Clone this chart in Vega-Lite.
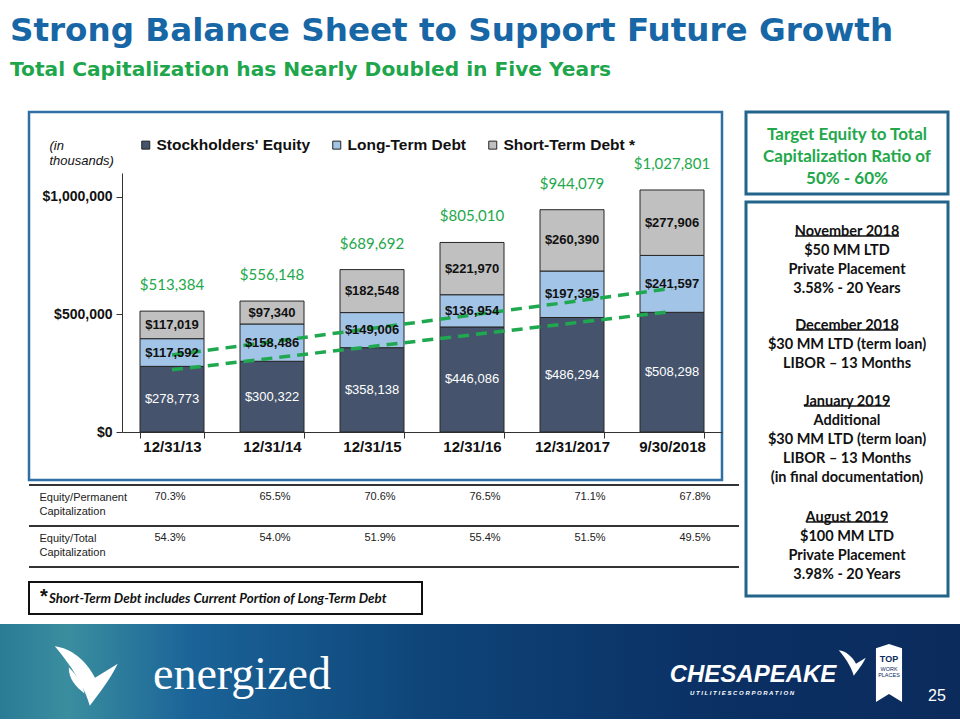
{
  "$schema": "https://vega.github.io/schema/vega-lite/v6.json",
  "padding": {"top": 14, "left": 0, "right": 0, "bottom": 0},
  "background": "white",
  "title": {
    "text": "Strong Balance Sheet to Support Future Growth",
    "subtitle": "Total Capitalization has Nearly Doubled in Five Years",
    "anchor": "start", "frame": "group", "dx": 10,
    "font": "DejaVu Sans", "fontSize": 32.6, "fontWeight": "bold", "color": "#1766a6",
    "subtitleFont": "DejaVu Sans", "subtitleFontSize": 20.2, "subtitleFontWeight": "bold", "subtitleColor": "#1ea64c",
    "subtitlePadding": 13, "offset": 30
  },
  "config": {"view": {"stroke": null}, "font": "Liberation Sans"},
  "datasets": {
    "cap": [
      {"date": "12/31/13", "series": "Stockholders' Equity", "order": 1, "value": 278773},
      {"date": "12/31/13", "series": "Long-Term Debt", "order": 2, "value": 117592},
      {"date": "12/31/13", "series": "Short-Term Debt *", "order": 3, "value": 117019},
      {"date": "12/31/14", "series": "Stockholders' Equity", "order": 1, "value": 300322},
      {"date": "12/31/14", "series": "Long-Term Debt", "order": 2, "value": 158486},
      {"date": "12/31/14", "series": "Short-Term Debt *", "order": 3, "value": 97340},
      {"date": "12/31/15", "series": "Stockholders' Equity", "order": 1, "value": 358138},
      {"date": "12/31/15", "series": "Long-Term Debt", "order": 2, "value": 149006},
      {"date": "12/31/15", "series": "Short-Term Debt *", "order": 3, "value": 182548},
      {"date": "12/31/16", "series": "Stockholders' Equity", "order": 1, "value": 446086},
      {"date": "12/31/16", "series": "Long-Term Debt", "order": 2, "value": 136954},
      {"date": "12/31/16", "series": "Short-Term Debt *", "order": 3, "value": 221970},
      {"date": "12/31/2017", "series": "Stockholders' Equity", "order": 1, "value": 486294},
      {"date": "12/31/2017", "series": "Long-Term Debt", "order": 2, "value": 197395},
      {"date": "12/31/2017", "series": "Short-Term Debt *", "order": 3, "value": 260390},
      {"date": "9/30/2018", "series": "Stockholders' Equity", "order": 1, "value": 508298},
      {"date": "9/30/2018", "series": "Long-Term Debt", "order": 2, "value": 241597},
      {"date": "9/30/2018", "series": "Short-Term Debt *", "order": 3, "value": 277906}
    ],
    "trend": [
      {"date": "12/31/13", "line": "upper", "value": 327000},
      {"date": "9/30/2018", "line": "upper", "value": 610000},
      {"date": "12/31/13", "line": "lower", "value": 264000},
      {"date": "9/30/2018", "line": "lower", "value": 512000}
    ],
    "ratios": [
      {"metric": "Equity/Permanent Capitalization", "date": "12/31/13", "ratio": "70.3%"},
      {"metric": "Equity/Permanent Capitalization", "date": "12/31/14", "ratio": "65.5%"},
      {"metric": "Equity/Permanent Capitalization", "date": "12/31/15", "ratio": "70.6%"},
      {"metric": "Equity/Permanent Capitalization", "date": "12/31/16", "ratio": "76.5%"},
      {"metric": "Equity/Permanent Capitalization", "date": "12/31/2017", "ratio": "71.1%"},
      {"metric": "Equity/Permanent Capitalization", "date": "9/30/2018", "ratio": "67.8%"},
      {"metric": "Equity/Total Capitalization", "date": "12/31/13", "ratio": "54.3%"},
      {"metric": "Equity/Total Capitalization", "date": "12/31/14", "ratio": "54.0%"},
      {"metric": "Equity/Total Capitalization", "date": "12/31/15", "ratio": "51.9%"},
      {"metric": "Equity/Total Capitalization", "date": "12/31/16", "ratio": "55.4%"},
      {"metric": "Equity/Total Capitalization", "date": "12/31/2017", "ratio": "51.5%"},
      {"metric": "Equity/Total Capitalization", "date": "9/30/2018", "ratio": "49.5%"}
    ],
    "rows": [
      {"metric": "Equity/Permanent Capitalization"},
      {"metric": "Equity/Total Capitalization"}
    ],
    "notes": [
      {"p": 1, "t": "November 2018\n$50 MM LTD\nPrivate Placement\n3.58% - 20 Years"},
      {"p": 2, "t": "December 2018\n$30 MM LTD (term loan)\nLIBOR – 13 Months"},
      {"p": 3, "t": "January 2019\nAdditional\n$30 MM LTD (term loan)\nLIBOR – 13 Months\n(in final documentation)"},
      {"p": 4, "t": "August 2019\n$100 MM LTD\nPrivate Placement\n3.98% - 20 Years"}
    ]
  },
  "vconcat": [
    {
      "hconcat": [
        {
          "width": 23, "height": 10,
          "view": {"fill": "white"},
          "data": {"values": []},
          "mark": "point"
        },
        {
          "vconcat": [
            {
              "vconcat": [
                {
                  "width": 693, "height": 368,
                  "view": {"stroke": "#2f6fa3", "strokeWidth": 2.5, "fill": "white"},
                  "data": {"name": "cap"},
                  "encoding": {
                    "x": {
                      "field": "date", "type": "ordinal",
                      "scale": {"type": "band", "domain": ["12/31/13", "12/31/14", "12/31/15", "12/31/16", "12/31/2017", "9/30/2018"], "range": [93, 693], "paddingInner": 0.36, "paddingOuter": 0.18},
                      "axis": {
                        "title": null, "orient": "bottom", "offset": -48, "labelAngle": 0,
                        "domainColor": "#333", "tickColor": "#333", "tickSize": 6, "tickBand": "extent",
                        "labelFont": "Liberation Sans", "labelFontWeight": "bold", "labelFontSize": 15, "labelColor": "#111", "labelPadding": 1
                      }
                    }
                  },
                  "layer": [
                    {
                      "mark": {"type": "bar", "stroke": "#262626", "strokeWidth": 1},
                      "encoding": {
                        "y": {
                          "field": "value", "type": "quantitative", "stack": "zero",
                          "scale": {"domain": [0, 1100000], "range": [320, 61], "nice": false, "zero": true},
                          "axis": {
                            "values": [0, 500000, 1000000], "format": "$,.0f", "offset": -93, "grid": false,
                            "domainColor": "#333", "tickColor": "#333", "tickSize": 6,
                            "labelFont": "Liberation Sans", "labelFontWeight": "bold", "labelFontSize": 14, "labelColor": "#111", "labelPadding": 4,
                            "title": ["(in", "thousands)"], "titleAngle": 0, "titleAlign": "left", "titleBaseline": "top",
                            "titleX": -73, "titleY": 27, "titleFont": "Liberation Sans", "titleFontStyle": "italic", "titleFontWeight": "normal",
                            "titleFontSize": 13, "titleColor": "#111", "titleLineHeight": 15
                          }
                        },
                        "color": {
                          "field": "series", "type": "nominal",
                          "scale": {"domain": ["Stockholders' Equity", "Long-Term Debt", "Short-Term Debt *"], "range": ["#45546c", "#a2c4e7", "#c0c0c0"]},
                          "legend": {
                            "title": null, "orient": "none", "legendX": 138, "legendY": 25, "direction": "horizontal",
                            "symbolType": "square", "symbolSize": 64, "symbolStrokeColor": "#222", "symbolStrokeWidth": 1,
                            "labelFont": "Liberation Sans", "labelFontWeight": "bold", "labelFontSize": 15.5, "labelColor": "#111",
                            "labelOffset": 3, "columnPadding": 18
                          }
                        },
                        "order": {"field": "order", "type": "quantitative"}
                      }
                    },
                    {
                      "data": {"name": "trend"},
                      "mark": {"type": "line", "strokeDash": [11, 7], "strokeWidth": 3.5, "color": "#1fa84f"},
                      "encoding": {
                        "y": {"field": "value", "type": "quantitative"},
                        "detail": {"field": "line"}
                      }
                    },
                    {
                      "mark": {"type": "text", "font": "Liberation Sans", "fontSize": 13, "fontWeight": "normal", "color": "white", "baseline": "middle"},
                      "encoding": {
                        "y": {"field": "value", "type": "quantitative", "stack": "zero", "bandPosition": 0.5},
                        "detail": {"field": "series"},
                        "order": {"field": "order", "type": "quantitative"},
                        "text": {"condition": {"test": "datum.order === 1", "field": "value", "type": "quantitative", "format": "$,.0f"}, "value": ""}
                      }
                    },
                    {
                      "mark": {"type": "text", "font": "Liberation Sans", "fontSize": 13, "fontWeight": "bold", "color": "#111", "baseline": "middle"},
                      "encoding": {
                        "y": {"field": "value", "type": "quantitative", "stack": "zero", "bandPosition": 0.5},
                        "detail": {"field": "series"},
                        "order": {"field": "order", "type": "quantitative"},
                        "text": {"condition": {"test": "datum.order !== 1", "field": "value", "type": "quantitative", "format": "$,.0f"}, "value": ""}
                      }
                    },
                    {
                      "mark": {"type": "text", "font": "Lato", "fontSize": 15, "color": "#22a84a", "baseline": "middle", "dy": -26},
                      "encoding": {
                        "y": {"aggregate": "sum", "field": "value", "type": "quantitative"},
                        "text": {"aggregate": "sum", "field": "value", "type": "quantitative", "format": "$,.0f"}
                      }
                    }
                  ]
                },
                {
                  "width": 710, "height": 82,
                  "layer": [
                    {
                      "data": {"name": "rows"},
                      "mark": {"type": "rule", "color": "#333", "strokeWidth": 2},
                      "encoding": {
                        "y": {
                          "field": "metric", "type": "nominal", "bandPosition": 0,
                          "scale": {"type": "band", "domain": ["Equity/Permanent Capitalization", "Equity/Total Capitalization"], "paddingInner": 0, "paddingOuter": 0},
                          "axis": {
                            "title": null, "orient": "left", "offset": -10, "domain": false, "ticks": false, "tickSize": 0, "grid": false,
                            "labelAlign": "left", "labelPadding": 0, "labelBaseline": "middle", "labelOffset": -7.5,
                            "labelExpr": "split(datum.label, ' ')", "labelLineHeight": 14,
                            "labelFont": "Liberation Sans", "labelFontSize": 11, "labelColor": "#222"
                          }
                        }
                      }
                    },
                    {
                      "data": {"name": "rows"},
                      "transform": [{"filter": "datum.metric === 'Equity/Total Capitalization'"}],
                      "mark": {"type": "rule", "color": "#333", "strokeWidth": 2},
                      "encoding": {
                        "y": {"field": "metric", "type": "nominal", "bandPosition": 1}
                      }
                    },
                    {
                      "data": {"name": "ratios"},
                      "mark": {"type": "text", "font": "Liberation Sans", "fontSize": 11, "color": "#222", "baseline": "middle"},
                      "encoding": {
                        "x": {"field": "date", "type": "ordinal", "scale": {"type": "point", "domain": ["12/31/13", "12/31/14", "12/31/15", "12/31/16", "12/31/2017", "9/30/2018"], "range": [141, 666], "padding": 0}, "axis": null},
                        "y": {"field": "metric", "type": "nominal", "bandPosition": 0.29},
                        "text": {"field": "ratio", "type": "nominal"}
                      }
                    }
                  ]
                }
              ],
              "spacing": 5, "bounds": "flush"
            },
            {
              "width": 393, "height": 32,
              "view": {"stroke": "#111", "strokeWidth": 2},
              "data": {"values": [{"note": "Short-Term Debt includes Current Portion of Long-Term Debt", "star": "*"}]},
              "layer": [
                {
                  "mark": {"type": "text", "font": "Lato", "fontSize": 13.3, "fontStyle": "italic", "fontWeight": "bold", "color": "#111", "baseline": "middle", "align": "left", "xOffset": -176.5, "yOffset": 1},
                  "encoding": {"text": {"field": "note", "type": "nominal"}}
                },
                {
                  "mark": {"type": "text", "font": "Liberation Sans", "fontSize": 20, "fontWeight": "bold", "color": "#111", "baseline": "middle", "xOffset": -181.5, "yOffset": -1},
                  "encoding": {"text": {"field": "star", "type": "nominal"}}
                }
              ]
            }
          ],
          "spacing": 13
        },
        {
          "vconcat": [
            {
              "width": 202, "height": 82,
              "view": {"stroke": "#22648a", "strokeWidth": 3},
              "data": {"values": [{"t": "Target Equity to Total\nCapitalization Ratio of\n50% - 60%"}]},
              "mark": {"type": "text", "font": "Lato", "fontSize": 17, "fontWeight": "bold", "color": "#22a84a", "lineBreak": "\n", "lineHeight": 22, "baseline": "middle", "dy": -18},
              "encoding": {"text": {"field": "t", "type": "nominal"}}
            },
            {
              "width": 202, "height": 394,
              "view": {"stroke": "#22648a", "strokeWidth": 3},
              "data": {"name": "notes"},
              "layer": [
                {
                  "transform": [{"filter": "datum.p === 1"}],
                  "mark": {"type": "text", "font": "Lato", "fontSize": 14.5, "fontWeight": "bold", "color": "#111", "lineBreak": "\n", "lineHeight": 18.9, "baseline": "middle", "dy": -167},
                  "encoding": {"text": {"field": "t", "type": "nominal"}}
                },
                {
                  "transform": [{"filter": "datum.p === 2"}],
                  "mark": {"type": "text", "font": "Lato", "fontSize": 14.5, "fontWeight": "bold", "color": "#111", "lineBreak": "\n", "lineHeight": 18.9, "baseline": "middle", "dy": -73},
                  "encoding": {"text": {"field": "t", "type": "nominal"}}
                },
                {
                  "transform": [{"filter": "datum.p === 3"}],
                  "mark": {"type": "text", "font": "Lato", "fontSize": 14.5, "fontWeight": "bold", "color": "#111", "lineBreak": "\n", "lineHeight": 18.9, "baseline": "middle", "dy": 3},
                  "encoding": {"text": {"field": "t", "type": "nominal"}}
                },
                {
                  "transform": [{"filter": "datum.p === 4"}],
                  "mark": {"type": "text", "font": "Lato", "fontSize": 14.5, "fontWeight": "bold", "color": "#111", "lineBreak": "\n", "lineHeight": 18.9, "baseline": "middle", "dy": 119},
                  "encoding": {"text": {"field": "t", "type": "nominal"}}
                },
                {
                  "transform": [{"filter": "datum.p === 1"}],
                  "mark": {"type": "point", "filled": true, "color": "#111", "opacity": 1, "strokeWidth": 0, "size": 10816, "yOffset": -163,
                    "shape": "M-1,-0.0125 L1,-0.0125 L1,0.0125 L-1,0.0125 Z"},
                  "encoding": {}
                },
                {
                  "transform": [{"filter": "datum.p === 2"}],
                  "mark": {"type": "point", "filled": true, "color": "#111", "opacity": 1, "strokeWidth": 0, "size": 10404, "yOffset": -69,
                    "shape": "M-1,-0.0127 L1,-0.0127 L1,0.0127 L-1,0.0127 Z"},
                  "encoding": {}
                },
                {
                  "transform": [{"filter": "datum.p === 3"}],
                  "mark": {"type": "point", "filled": true, "color": "#111", "opacity": 1, "strokeWidth": 0, "size": 7396, "yOffset": 7,
                    "shape": "M-1,-0.0151 L1,-0.0151 L1,0.0151 L-1,0.0151 Z"},
                  "encoding": {}
                },
                {
                  "transform": [{"filter": "datum.p === 4"}],
                  "mark": {"type": "point", "filled": true, "color": "#111", "opacity": 1, "strokeWidth": 0, "size": 6724, "yOffset": 123,
                    "shape": "M-1,-0.0159 L1,-0.0159 L1,0.0159 L-1,0.0159 Z"},
                  "encoding": {}
                }
              ]
            }
          ],
          "spacing": 8, "bounds": "flush"
        }
      ],
      "spacing": 4
    },
    {
      "width": 960, "height": 95,
      "data": {"values": [{"logo": "energized"}]},
      "layer": [
        {
          "mark": {"type": "rect", "fill": {"gradient": "linear", "x1": 0, "x2": 1, "y1": 0, "y2": 0, "stops": [
            {"offset": 0, "color": "#2a7b95"},
            {"offset": 0.07, "color": "#3a8e9f"},
            {"offset": 0.2, "color": "#1a6398"},
            {"offset": 0.45, "color": "#0e4478"},
            {"offset": 0.75, "color": "#0b3064"},
            {"offset": 1, "color": "#0b2b5c"}
          ]}},
          "encoding": {}
        },
        {
          "mark": {"type": "point", "filled": true, "color": "white", "opacity": 1, "size": 4900, "xOffset": -392, "yOffset": 1,
            "shape": "M-0.95,-0.75 C-0.5,-0.7 -0.05,-0.35 0.2,0.15 L0.85,-0.25 C0.6,0.25 0.35,0.55 0.05,0.95 C-0.05,0.55 -0.35,-0.05 -0.95,-0.75 Z M-0.55,-0.15 C-0.3,0.1 -0.15,0.35 -0.1,0.6 C-0.35,0.4 -0.55,0.2 -0.55,-0.15 Z"},
          "encoding": {}
        },
        {
          "mark": {"type": "text", "font": "Liberation Serif", "fontSize": 46, "color": "white", "baseline": "alphabetic", "xOffset": -238, "yOffset": 17},
          "encoding": {"text": {"field": "logo", "type": "nominal"}}
        },
        {
          "mark": {"type": "text", "font": "Liberation Sans", "fontSize": 24, "fontWeight": "bold", "fontStyle": "italic", "color": "white", "baseline": "middle", "xOffset": 273, "yOffset": 3, "text": "CHESAPEAKE"},
          "encoding": {}
        },
        {
          "mark": {"type": "text", "font": "Liberation Sans", "fontSize": 6, "fontWeight": "bold", "fontStyle": "italic", "color": "white", "baseline": "middle", "xOffset": 262, "yOffset": 21, "text": "U T I L I T I E S    C O R P O R A T I O N"},
          "encoding": {}
        },
        {
          "mark": {"type": "point", "filled": true, "color": "white", "opacity": 1, "size": 900, "xOffset": 373, "yOffset": -10,
            "shape": "M-0.95,-0.75 C-0.5,-0.7 -0.05,-0.35 0.2,0.15 L0.85,-0.25 C0.6,0.25 0.35,0.55 0.05,0.95 C-0.05,0.55 -0.35,-0.05 -0.95,-0.75 Z"},
          "encoding": {}
        },
        {
          "mark": {"type": "point", "filled": true, "color": "white", "opacity": 1, "size": 3364, "xOffset": 409, "yOffset": 1.5,
            "shape": "M-0.45,-0.85 L0,-1 L0.45,-0.85 L0.45,1 L0,0.72 L-0.45,1 Z"},
          "encoding": {}
        },
        {
          "mark": {"type": "text", "font": "Liberation Sans", "fontSize": 9, "fontWeight": "bold", "color": "#0b2b5c", "baseline": "middle", "xOffset": 409, "yOffset": -13, "text": "TOP"},
          "encoding": {}
        },
        {
          "mark": {"type": "text", "font": "Liberation Sans", "fontSize": 5.5, "color": "#0b2b5c", "baseline": "middle", "lineBreak": "\n", "lineHeight": 6, "xOffset": 409, "yOffset": -3, "text": "WORK\nPLACES"},
          "encoding": {}
        },
        {
          "mark": {"type": "text", "font": "Liberation Sans", "fontSize": 16, "color": "white", "baseline": "middle", "xOffset": 457, "yOffset": 24, "text": "25"},
          "encoding": {}
        }
      ]
    }
  ],
  "spacing": 9
}
